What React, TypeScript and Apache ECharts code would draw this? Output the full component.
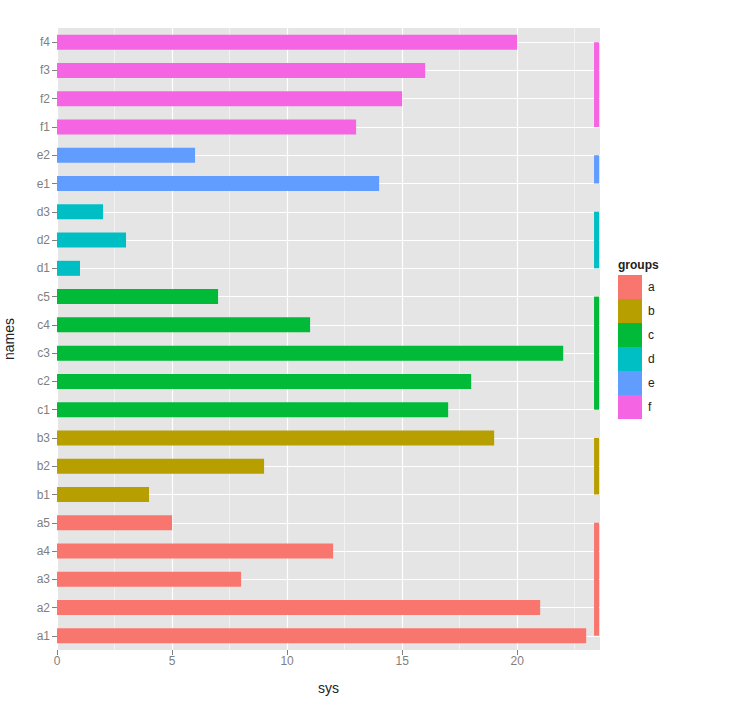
import React, { useEffect, useRef } from "react";
import * as echarts from "echarts";

const categories = ["a1","a2","a3","a4","a5","b1","b2","b3","c1","c2","c3","c4","c5","d1","d2","d3","e1","e2","f1","f2","f3","f4"];
const values = [23,21,8,12,5,4,9,19,17,18,22,11,7,1,3,2,14,6,13,15,16,20];
const groups = ["a","b","c","d","e","f"];
const groupColors = ["#F8766D","#B79F00","#00BA38","#00BFC4","#619CFF","#F564E3"];
const xTicks = [0,5,10,15,20];
const xMinor = [2.5,7.5,12.5,17.5,22.5];
const xMax = 23.6;
const segmentX = 23.45;

const FONT = "Liberation Sans, Arial, sans-serif";

export default function App() {
  const ref = useRef<HTMLDivElement>(null);
  useEffect(() => {
    if (!ref.current) return;
    const chart = echarts.init(ref.current, null, { renderer: "svg" });

    const barSeries = groups.map((g, gi) => ({
      name: g,
      type: "bar",
      barWidth: 15,
      barGap: "-100%",
      z: 3,
      itemStyle: { color: groupColors[gi] },
      data: categories.map((c, i) => (c[0] === g ? values[i] : "-")),
    }));

    const segSeries = groups.map((g, gi) => {
      const cats = categories.filter((c) => c[0] === g);
      return {
        name: "seg-" + g,
        type: "line",
        symbol: "none",
        z: 3,
        silent: true,
        lineStyle: { color: groupColors[gi], width: 5, cap: "butt" },
        data: [
          [segmentX, cats[0]],
          [segmentX, cats[cats.length - 1]],
        ],
      };
    });

    const gridSeries = {
      name: "grid",
      type: "line",
      data: [],
      z: 1,
      silent: true,
      markLine: {
        z: 1,
        silent: true,
        symbol: "none",
        label: { show: false },
        animation: false,
        data: [
          ...xMinor.map((v) => ({ xAxis: v, lineStyle: { color: "#F2F2F2", width: 1, type: "solid" } })),
          ...xTicks.map((v) => ({ xAxis: v, lineStyle: { color: "#FFFFFF", width: 1.2, type: "solid" } })),
          ...categories.map((c) => ({ yAxis: c, lineStyle: { color: "#FFFFFF", width: 1.2, type: "solid" } })),
        ],
      },
    };

    chart.setOption({
      animation: false,
      textStyle: { fontFamily: FONT },
      grid: {
        left: 57,
        right: 156,
        top: 28,
        bottom: 60,
        show: true,
        backgroundColor: "#E5E5E5",
        borderWidth: 0,
        outerBoundsMode: "none",
        containLabel: false,
      },
      xAxis: {
        type: "value",
        min: 0,
        max: xMax,
        interval: 5,
        name: "sys",
        nameLocation: "middle",
        nameGap: 31,
        nameTextStyle: { fontSize: 14, color: "#222", fontFamily: FONT },
        axisLine: { show: false },
        axisTick: { show: true, length: 5, lineStyle: { color: "#7F7F7F" }, customValues: xTicks },
        axisLabel: { color: "#7F7F7F", fontSize: 12, margin: 5, fontFamily: FONT, customValues: xTicks },
        splitLine: { show: false },
      },
      yAxis: {
        type: "category",
        data: categories,
        boundaryGap: true,
        name: "names",
        nameLocation: "middle",
        nameRotate: 90,
        nameGap: 41,
        nameTextStyle: { fontSize: 14, color: "#222", fontFamily: FONT },
        axisLine: { show: false },
        axisTick: { show: true, alignWithLabel: true, length: 5, lineStyle: { color: "#7F7F7F" } },
        axisLabel: { color: "#7F7F7F", fontSize: 12, margin: 7, fontFamily: FONT },
        splitLine: { show: false },
      },
      legend: {
        data: groups,
        orient: "vertical",
        left: 618,
        top: 275,
        icon: "rect",
        itemWidth: 24,
        itemHeight: 24,
        itemGap: 0,
        padding: 0,
        selectedMode: false,
        textStyle: { fontSize: 12, color: "#222", fontFamily: FONT, padding: [0, 0, 0, 1] },
      },
      graphic: [
        {
          type: "text",
          left: 618,
          top: 259,
          style: { text: "groups", fontSize: 12, fontWeight: "bold", fill: "#222", fontFamily: FONT },
        },
      ],
      series: [gridSeries, ...barSeries, ...segSeries],
    });
    return () => chart.dispose();
  }, []);
  return <div ref={ref} style={{ position: "absolute", left: 0, top: 0, width: 756, height: 710 }} />;
}
